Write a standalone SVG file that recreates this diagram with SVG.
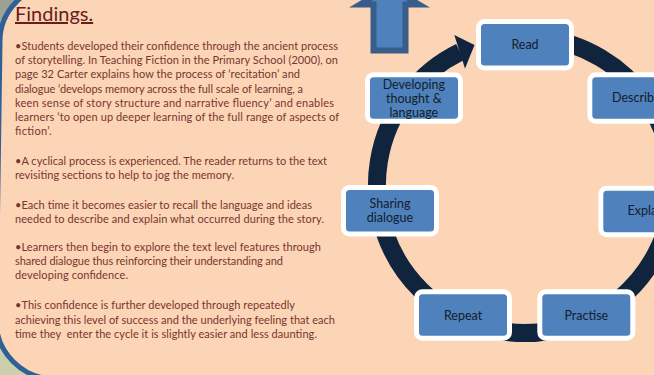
<svg xmlns="http://www.w3.org/2000/svg" width="654" height="375" viewBox="0 0 654 375">
<defs>
<linearGradient id="photo" x1="0" y1="0" x2="0" y2="1">
<stop offset="0" stop-color="#9da193"/>
<stop offset="1" stop-color="#ccd0ad"/>
</linearGradient>
<style>
.body{font-family:Lato,"Liberation Sans",sans-serif;font-size:11px;fill:#7a3430;}
.head{font-family:Lato,"Liberation Sans",sans-serif;font-size:20px;fill:#6a1c1c;text-decoration:underline;}
.box rect{fill:#4f81bd;stroke:#ffffff;stroke-width:5;}
.box text{font-family:Lato,"Liberation Sans",sans-serif;font-size:12.5px;fill:#131d2b;text-anchor:middle;}
.ring{fill:none;stroke:#10243e;stroke-width:18;}
</style>
</defs>
<rect x="0" y="0" width="654" height="375" fill="url(#photo)"/>
<path d="M700,-14 H55 A55 55 0 0 0 0,41 L-4,320 A59 59 0 0 0 55,379 H700 Z" fill="#fbd5b5" stroke="#2f6096" stroke-width="5"/>

<g id="title">
<text class="head" x="15" y="21">Findings.</text>
</g>
<g id="findings-text" class="body">
<text x="15" y="50" textLength="323">•Students developed their confidence through the ancient process</text>
<text x="15" y="64.2" textLength="323">of storytelling. In Teaching Fiction in the Primary School (2000), on</text>
<text x="15" y="78.4" textLength="285">page 32 Carter explains how the process of ‘recitation’ and</text>
<text x="15" y="92.6" textLength="288">dialogue ‘develops memory across the full scale of learning, a</text>
<text x="15" y="106.8" textLength="319">keen sense of story structure and narrative fluency’ and enables</text>
<text x="15" y="121" textLength="324">learners ‘to open up deeper learning of the full range of aspects of</text>
<text x="15" y="135.2" textLength="36.5">fiction’.</text>
<text x="15" y="165" textLength="312">•A cyclical process is experienced. The reader returns to the text</text>
<text x="15" y="179" textLength="219">revisiting sections to help to jog the memory.</text>
<text x="15" y="208.5" textLength="297">•Each time it becomes easier to recall the language and ideas</text>
<text x="15" y="222.5" textLength="309">needed to describe and explain what occurred during the story.</text>
<text x="15" y="251" textLength="306">•Learners then begin to explore the text level features through</text>
<text x="15" y="265.3" textLength="268">shared dialogue thus reinforcing their understanding and</text>
<text x="15" y="279.4" textLength="113">developing confidence.</text>
<text x="15" y="309.4" textLength="280">•This confidence is further developed through repeatedly</text>
<text x="15" y="323.7" textLength="320">achieving this level of success and the underlying feeling that each</text>
<text x="15" y="337.7" textLength="302" xml:space="preserve">time they  enter the cycle it is slightly easier and less daunting.</text>
</g>

<g id="up-arrow">
<polygon points="373.5,50.5 405.5,50.5 405.5,4.5 419,4.5 389.5,-13 360,4.5 373.5,4.5" fill="#4f81bd" stroke="#385d8a" stroke-width="6" stroke-linejoin="miter"/>
</g>

<g id="connectors">
<path class="ring" d="M537.9,37.6 A148 148 0 1 1 460.1,52.0"/>
<polygon points="454.3,35 474.5,45 465,68.5" fill="#10243e"/>
</g>

<g id="node-read" class="box">
<rect x="478.5" y="21.5" width="93" height="46.5" rx="6"/>
<text x="525" y="49.3">Read</text>
</g>
<g id="node-describe" class="box">
<rect x="589.8" y="74.8" width="93" height="46.5" rx="6"/>
<text x="636.3" y="102.3">Describe</text>
</g>
<g id="node-explain" class="box">
<rect x="600.8" y="188.2" width="93" height="46.5" rx="6"/>
<text x="647.3" y="215.3">Explain</text>
</g>
<g id="node-practise" class="box">
<rect x="539.8" y="291.8" width="93" height="46.5" rx="6"/>
<text x="586.3" y="319.6">Practise</text>
</g>
<g id="node-repeat" class="box">
<rect x="416.5" y="291.8" width="93" height="46.5" rx="6"/>
<text x="463" y="319.6">Repeat</text>
</g>
<g id="node-sharing" class="box">
<rect x="343.5" y="187.5" width="93" height="46.5" rx="6"/>
<text x="390" y="208.3">Sharing</text>
<text x="390" y="221.8">dialogue</text>
</g>
<g id="node-developing" class="box">
<rect x="367.5" y="74.8" width="93" height="46.5" rx="6"/>
<text x="413.8" y="88.5">Developing</text>
<text x="413.8" y="102.6">thought &amp;</text>
<text x="413.8" y="116.7">language</text>
</g>
</svg>
